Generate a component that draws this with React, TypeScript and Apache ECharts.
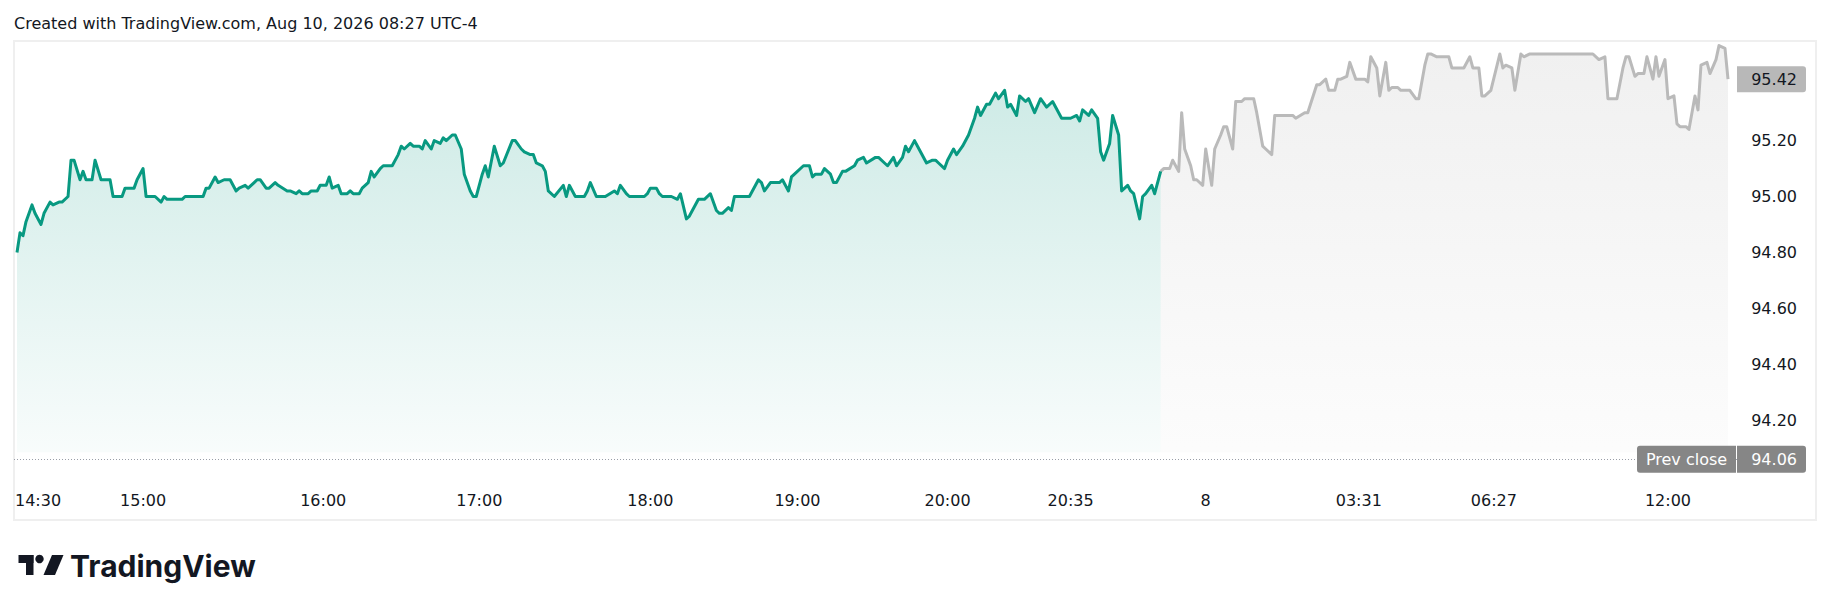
import React, { useEffect, useRef } from "react";
import * as echarts from "echarts";

// ---- data (bar index on the time scale, price) ----
const greenBars = [
  1, 2, 3, 4, 6, 7, 9, 10, 12, 13,
  15, 16, 18, 19, 20, 22, 23, 24, 26, 27,
  29, 32, 33, 36, 37, 40, 41, 43, 44, 47,
  49, 50, 51, 56, 57, 63, 64, 65, 67, 68,
  70, 72, 74, 75, 77, 78, 80, 81, 82, 84,
  85, 87, 88, 91, 92, 94, 95, 96, 98, 99,
  101, 102, 104, 105, 106, 108, 109, 111, 112, 113,
  115, 116, 118, 119, 120, 122, 123, 125, 126, 128,
  129, 130, 132, 133, 135, 136, 137, 139, 140, 142,
  143, 144, 146, 147, 149, 150, 152, 153, 154, 156,
  157, 158, 160, 162, 163, 166, 167, 169, 170, 172,
  173, 174, 176, 177, 178, 180, 183, 184, 185, 187,
  190, 191, 192, 194, 197, 200, 201, 202, 204, 205,
  210, 211, 212, 214, 215, 216, 219, 221, 222, 224,
  225, 228, 230, 232, 234, 235, 236, 238, 239, 240,
  245, 248, 249, 250, 252, 255, 256, 258, 259, 260,
  263, 265, 266, 267, 269, 270, 272, 273, 274, 276,
  277, 280, 281, 283, 284, 287, 288, 290, 291, 293,
  294, 296, 297, 298, 300, 301, 304, 306, 307, 308,
  310, 311, 313, 314, 316, 318, 320, 321, 322, 324,
  325, 327, 328, 330, 331, 332, 334, 335, 337, 338,
  340, 342, 344, 346, 349, 352, 354, 355, 356, 358,
  359, 361, 362, 363, 365, 366, 368, 369, 371, 372,
  373, 375, 376, 377, 379, 380, 382,
];
const greenPrices = [
  94.8, 94.87, 94.86, 94.91, 94.97, 94.94, 94.9, 94.94, 94.98, 94.97,
  94.98, 94.98, 95.0, 95.13, 95.13, 95.06, 95.09, 95.06, 95.06, 95.13,
  95.06, 95.06, 95.0, 95.0, 95.03, 95.03, 95.06, 95.1, 95.0, 95.0,
  94.98, 95.0, 94.99, 94.99, 95.0, 95.0, 95.03, 95.03, 95.07, 95.05,
  95.06, 95.06, 95.02, 95.03, 95.04, 95.03, 95.05, 95.06, 95.06, 95.03,
  95.03, 95.05, 95.04, 95.02, 95.02, 95.01, 95.02, 95.01, 95.01, 95.02,
  95.02, 95.04, 95.04, 95.07, 95.03, 95.04, 95.01, 95.01, 95.02, 95.01,
  95.01, 95.03, 95.05, 95.09, 95.07, 95.1, 95.11, 95.11, 95.11, 95.15,
  95.18, 95.17, 95.19, 95.18, 95.18, 95.17, 95.2, 95.17, 95.2, 95.19,
  95.21, 95.2, 95.22, 95.22, 95.17, 95.08, 95.02, 95.0, 95.0, 95.08,
  95.11, 95.07, 95.18, 95.11, 95.12, 95.2, 95.2, 95.17, 95.16, 95.15,
  95.15, 95.12, 95.11, 95.09, 95.02, 95.0, 95.04, 95.0, 95.04, 95.0,
  95.0, 95.02, 95.05, 95.0, 95.0, 95.02, 95.01, 95.04, 95.01, 95.0,
  95.0, 95.01, 95.03, 95.03, 95.01, 95.0, 95.0, 94.99, 95.01, 94.92,
  94.93, 94.99, 94.99, 95.01, 94.95, 94.94, 94.94, 94.96, 94.95, 95.0,
  95.0, 95.06, 95.05, 95.02, 95.05, 95.05, 95.06, 95.02, 95.07, 95.08,
  95.11, 95.11, 95.07, 95.08, 95.08, 95.1, 95.08, 95.05, 95.05, 95.09,
  95.09, 95.11, 95.13, 95.14, 95.12, 95.14, 95.14, 95.12, 95.11, 95.14,
  95.11, 95.14, 95.18, 95.16, 95.2, 95.18, 95.12, 95.13, 95.13, 95.12,
  95.1, 95.13, 95.17, 95.15, 95.18, 95.22, 95.28, 95.32, 95.29, 95.33,
  95.33, 95.37, 95.35, 95.38, 95.32, 95.33, 95.29, 95.36, 95.34, 95.35,
  95.3, 95.35, 95.32, 95.34, 95.28, 95.28, 95.29, 95.27, 95.31, 95.29,
  95.31, 95.28, 95.16, 95.13, 95.19, 95.29, 95.22, 95.02, 95.04, 95.02,
  95.01, 94.92, 95.0, 95.01, 95.04, 95.01, 95.09,
];
const grayBars = [
  382, 383, 385, 386, 388, 389, 390, 392, 393, 394,
  396, 397, 399, 400, 402, 403, 404, 406, 407, 409,
  410, 413, 414, 416, 417, 419, 420, 426, 427, 430,
  431, 434, 435, 437, 438, 440, 441, 442, 444, 445,
  447, 450, 451, 452, 454, 455, 457, 458, 459, 461,
  462, 465, 467, 468, 470, 471, 472, 474, 478, 479,
  483, 485, 486, 488, 489, 490, 492, 495, 496, 497,
  499, 500, 502, 503, 505, 526, 528, 530, 531, 534,
  536, 537, 538, 540, 541, 543, 544, 546, 547, 548,
  550, 551, 553, 554, 555, 557, 558, 560, 561, 562,
  564, 565, 567, 568, 570, 571,
];
const grayPrices = [
  95.09, 95.1, 95.1, 95.13, 95.09, 95.3, 95.17, 95.11, 95.06, 95.06,
  95.04, 95.17, 95.04, 95.17, 95.22, 95.25, 95.25, 95.17, 95.34, 95.34,
  95.35, 95.35, 95.3, 95.18, 95.17, 95.15, 95.29, 95.29, 95.28, 95.3,
  95.3, 95.4, 95.4, 95.42, 95.38, 95.38, 95.42, 95.42, 95.43, 95.48,
  95.42, 95.42, 95.41, 95.5, 95.46, 95.36, 95.48, 95.38, 95.39, 95.39,
  95.38, 95.38, 95.35, 95.35, 95.47, 95.51, 95.51, 95.5, 95.5, 95.46,
  95.46, 95.5, 95.46, 95.46, 95.36, 95.36, 95.38, 95.51, 95.46, 95.47,
  95.46, 95.38, 95.51, 95.5, 95.51, 95.51, 95.49, 95.5, 95.35, 95.35,
  95.46, 95.5, 95.5, 95.43, 95.44, 95.44, 95.5, 95.42, 95.5, 95.43,
  95.49, 95.35, 95.36, 95.26, 95.25, 95.25, 95.24, 95.36, 95.31, 95.47,
  95.48, 95.44, 95.49, 95.54, 95.53, 95.42,
];
const timeLabels = ["14:30", "15:00", "16:00", "17:00", "18:00", "19:00", "20:00", "20:35", "8", "03:31", "06:27", "12:00"];
const timeLabelBars = [8, 43, 103, 155, 212, 261, 311, 352, 397, 448, 493, 551];
const priceTicks = [94.2, 94.4, 94.6, 94.8, 95.0, 95.2];
const prevClose = 94.06;
const lastPrice = 95.42;
const titleText = "Created with TradingView.com, Aug 10, 2026 08:27 UTC-4";

const FONT = "DejaVu Sans";
const TEXT = "#131722";
const FS = 16;

export default function App() {
  const ref = useRef<HTMLDivElement>(null);

  useEffect(() => {
    const el = ref.current;
    if (!el) return;
    const chart = echarts.init(el, undefined, { renderer: "svg" });
    const labelMap = new Map<number, string>();
    timeLabelBars.forEach((b, i) => labelMap.set(b, timeLabels[i]));
    const xMax = 574;

    chart.setOption({
      animation: false,
      backgroundColor: "#ffffff",
      grid: { left: 14, right: 93, top: 40, bottom: 135 },
      xAxis: {
        type: "value",
        min: 0,
        max: xMax,
        axisLine: { show: false },
        axisTick: { show: false },
        splitLine: { show: false },
        axisLabel: {
          customValues: timeLabelBars,
          formatter: (v: number) => labelMap.get(v) ?? "",
          fontFamily: FONT,
          fontSize: FS,
          color: TEXT,
          margin: 16,
        },
      },
      yAxis: {
        type: "value",
        position: "right",
        min: 94.0,
        max: 95.56,
        axisLine: { show: false },
        axisTick: { show: false },
        splitLine: { show: false },
        axisLabel: {
          customValues: priceTicks,
          formatter: (v: number) => v.toFixed(2),
          align: "right",
          margin: 60,
          fontFamily: FONT,
          fontSize: FS,
          color: TEXT,
        },
      },
      series: [
        {
          type: "line",
          data: greenBars.map((b, i) => [b, greenPrices[i]]),
          symbol: "none",
          z: 3,
          lineStyle: { color: "#089981", width: 3, join: "round" },
          areaStyle: {
            origin: 94.085,
            color: new echarts.graphic.LinearGradient(0, 0, 0, 1, [
              { offset: 0, color: "rgba(8,153,129,0.28)" },
              { offset: 1, color: "rgba(8,153,129,0.04)" },
            ]),
          },
          markLine: {
            silent: true,
            symbol: "none",
            label: { show: false },
            lineStyle: { type: [1, 2], color: "#9a9ea8", width: 1 },
            data: [{ yAxis: prevClose }],
          },
        },
        {
          type: "line",
          data: grayBars.map((b, i) => [b, grayPrices[i]]),
          symbol: "none",
          z: 2,
          lineStyle: { color: "#bababa", width: 3, join: "round" },
          areaStyle: {
            origin: 94.085,
            color: new echarts.graphic.LinearGradient(0, 0, 0, 1, [
              { offset: 0, color: "rgba(120,120,120,0.16)" },
              { offset: 1, color: "rgba(120,120,120,0.03)" },
            ]),
          },
        },
      ],
    });

    const xRight = chart.convertToPixel({ xAxisIndex: 0 }, xMax) as number;
    const yPrev = chart.convertToPixel({ yAxisIndex: 0 }, prevClose) as number;
    const yLast = chart.convertToPixel({ yAxisIndex: 0 }, lastPrice) as number;
    const labelRight = xRight + 60;

    chart.setOption({
      graphic: [
        {
          type: "rect",
          silent: true,
          z: 1,
          shape: { x: 14, y: 41, width: 1802, height: 479 },
          style: { fill: "none", stroke: "#efefef", lineWidth: 2 },
        },
        {
          type: "text",
          z: 100,
          x: 14,
          y: 23.5,
          style: { text: titleText, fontFamily: FONT, fontSize: FS, fill: TEXT, verticalAlign: "middle", align: "left" },
        },
        {
          type: "rect",
          z: 100,
          shape: { x: xRight, y: yLast - 13, width: 69, height: 26, r: [0, 3, 3, 0] },
          style: { fill: "#b8b8b8" },
        },
        {
          type: "text",
          z: 101,
          x: labelRight,
          y: yLast,
          style: { text: lastPrice.toFixed(2), fontFamily: FONT, fontSize: FS, fill: TEXT, align: "right", verticalAlign: "middle" },
        },
        {
          type: "rect",
          z: 100,
          shape: { x: xRight - 100, y: yPrev - 13.5, width: 99, height: 27, r: [3, 0, 0, 3] },
          style: { fill: "#868686" },
        },
        {
          type: "rect",
          z: 100,
          shape: { x: xRight, y: yPrev - 13.5, width: 69, height: 27, r: [0, 3, 3, 0] },
          style: { fill: "#868686" },
        },
        {
          type: "text",
          z: 101,
          x: xRight - 50.5,
          y: yPrev,
          style: { text: "Prev close", fontFamily: FONT, fontSize: FS, fill: "#ffffff", align: "center", verticalAlign: "middle" },
        },
        {
          type: "text",
          z: 101,
          x: labelRight,
          y: yPrev,
          style: { text: prevClose.toFixed(2), fontFamily: FONT, fontSize: FS, fill: "#ffffff", align: "right", verticalAlign: "middle" },
        },
        // TradingView logo
        { type: "rect", z: 100, shape: { x: 18.5, y: 555, width: 15, height: 8 }, style: { fill: TEXT } },
        { type: "rect", z: 100, shape: { x: 26, y: 555, width: 7.5, height: 20 }, style: { fill: TEXT } },
        { type: "circle", z: 100, shape: { cx: 39.5, cy: 559, r: 4.2 }, style: { fill: TEXT } },
        {
          type: "polygon",
          z: 100,
          shape: { points: [[52, 555], [63.5, 555], [55, 575], [43.5, 575]] },
          style: { fill: TEXT },
        },
        {
          type: "text",
          z: 100,
          x: 70,
          y: 565.5,
          style: { text: "TradingView", fontFamily: "Inter", fontWeight: 700, fontSize: 30, fill: TEXT, verticalAlign: "middle", align: "left" },
        },
      ],
    });

    return () => chart.dispose();
  }, []);

  return (
    <div
      ref={ref}
      style={{ position: "fixed", left: 0, top: 0, width: 1830, height: 611, background: "#ffffff" }}
    />
  );
}
